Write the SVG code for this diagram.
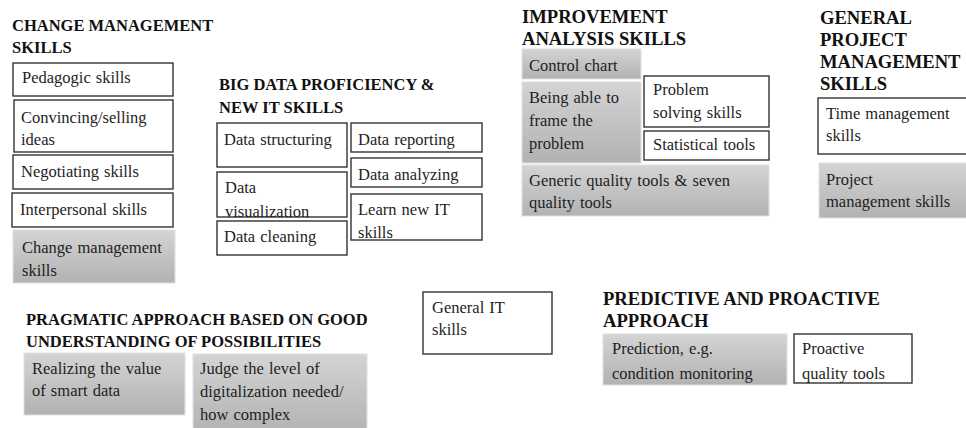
<svg xmlns="http://www.w3.org/2000/svg" width="966" height="428" viewBox="0 0 966 428" font-family="'Liberation Serif', 'Times New Roman', serif">
<defs>
<linearGradient id="g" x1="0" y1="0" x2="0" y2="1">
<stop offset="0" stop-color="#d4d4d4"/>
<stop offset="1" stop-color="#b2b2b2"/>
</linearGradient>
<style>
.b{fill:#fff;stroke:#333;stroke-width:1.4}
.s{fill:url(#g);stroke:#e0e0e0;stroke-width:1}
text{font-family:'Liberation Serif', 'Times New Roman', serif;fill:#1e1e1e}
.t{font-size:16.5px;word-spacing:1px}
.h{font-size:16.5px;font-weight:bold;fill:#111}
.H{font-size:18.6px;font-weight:bold;fill:#111}
</style>
</defs>
<rect width="966" height="428" fill="#fff"/>

<g id="change-management">
<text class="h" x="12" y="31">CHANGE MANAGEMENT</text>
<text class="h" x="12" y="53">SKILLS</text>
</g>
<g id="pedagogic"><rect class="b" x="13" y="63" width="160" height="33"/><text class="t" x="22" y="83">Pedagogic skills</text></g>
<g id="convincing"><rect class="b" x="14" y="100" width="159" height="52"/><text class="t" x="21" y="123">Convincing/selling</text><text class="t" x="21" y="145">ideas</text></g>
<g id="negotiating"><rect class="b" x="13" y="155" width="160" height="34"/><text class="t" x="21" y="177">Negotiating skills</text></g>
<g id="interpersonal"><rect class="b" x="12" y="193" width="161" height="34"/><text class="t" x="20" y="215">Interpersonal skills</text></g>
<g id="change-mgmt-skills"><rect class="s" x="13" y="230" width="162" height="53"/><text class="t" x="22" y="253">Change management</text><text class="t" x="22" y="276">skills</text></g>

<g id="big-data">
<text class="h" x="219" y="90">BIG DATA PROFICIENCY &amp;</text>
<text class="h" x="219" y="113">NEW IT SKILLS</text>
</g>
<g id="data-structuring"><rect class="b" x="217" y="123" width="130" height="44"/><text class="t" x="224" y="145">Data structuring</text></g>
<g id="data-visualization"><rect class="b" x="217" y="172" width="130" height="45"/><text class="t" x="225" y="193">Data</text><text class="t" x="225" y="217">visualization</text></g>
<g id="data-cleaning"><rect class="b" x="217" y="221" width="130" height="34"/><text class="t" x="224" y="242">Data cleaning</text></g>
<g id="data-reporting"><rect class="b" x="351" y="123" width="131" height="29"/><text class="t" x="358" y="145">Data reporting</text></g>
<g id="data-analyzing"><rect class="b" x="351" y="158" width="131" height="29"/><text class="t" x="358" y="180">Data analyzing</text></g>
<g id="learn-it"><rect class="b" x="351" y="194" width="131" height="46"/><text class="t" x="358" y="215">Learn new IT</text><text class="t" x="358" y="238">skills</text></g>

<g id="improvement">
<text class="H" x="522" y="23">IMPROVEMENT</text>
<text class="H" x="522" y="45">ANALYSIS SKILLS</text>
</g>
<g id="control-chart"><rect class="s" x="522" y="49" width="119" height="30"/><text class="t" x="529" y="71">Control chart</text></g>
<g id="frame-problem"><rect class="s" x="522" y="82" width="119" height="81"/><text class="t" x="529" y="103">Being able to</text><text class="t" x="529" y="126">frame the</text><text class="t" x="529" y="149">problem</text></g>
<g id="problem-solving"><rect class="b" x="644" y="76" width="125" height="51"/><text class="t" x="653" y="95">Problem</text><text class="t" x="653" y="118">solving skills</text></g>
<g id="statistical"><rect class="b" x="644" y="131" width="125" height="29"/><text class="t" x="653" y="150">Statistical tools</text></g>
<g id="generic-quality"><rect class="s" x="522" y="165" width="247" height="51"/><text class="t" x="529" y="186">Generic quality tools &amp; seven</text><text class="t" x="529" y="208">quality tools</text></g>

<g id="general-pm">
<text class="H" x="820" y="24">GENERAL</text>
<text class="H" x="820" y="46">PROJECT</text>
<text class="H" x="820" y="68">MANAGEMENT</text>
<text class="H" x="820" y="90">SKILLS</text>
</g>
<g id="time-management"><rect class="b" x="818" y="98" width="160" height="56"/><text class="t" x="826" y="119">Time management</text><text class="t" x="826" y="141">skills</text></g>
<g id="project-management"><rect class="s" x="819" y="163" width="160" height="55"/><text class="t" x="826" y="185">Project</text><text class="t" x="826" y="207">management skills</text></g>

<g id="pragmatic">
<text class="h" x="26" y="325">PRAGMATIC APPROACH BASED ON GOOD</text>
<text class="h" x="26" y="347">UNDERSTANDING OF POSSIBILITIES</text>
</g>
<g id="smart-data"><rect class="s" x="24" y="353" width="161" height="62"/><text class="t" x="32" y="374">Realizing the value</text><text class="t" x="32" y="396">of smart data</text></g>
<g id="digitalization"><rect class="s" x="193" y="354" width="174" height="80"/><text class="t" x="200" y="374">Judge the level of</text><text class="t" x="200" y="397">digitalization needed/</text><text class="t" x="200" y="420">how complex</text></g>

<g id="general-it"><rect class="b" x="423" y="292" width="129" height="62"/><text class="t" x="432" y="313">General IT</text><text class="t" x="432" y="335">skills</text></g>

<g id="predictive">
<text class="H" x="603" y="305">PREDICTIVE AND PROACTIVE</text>
<text class="H" x="603" y="327">APPROACH</text>
</g>
<g id="prediction"><rect class="s" x="603" y="334" width="184" height="51"/><text class="t" x="612" y="354">Prediction, e.g.</text><text class="t" x="612" y="379">condition monitoring</text></g>
<g id="proactive"><rect class="b" x="794" y="334" width="118" height="49"/><text class="t" x="802" y="354">Proactive</text><text class="t" x="802" y="379">quality tools</text></g>

<g id="connectors"></g>
</svg>
